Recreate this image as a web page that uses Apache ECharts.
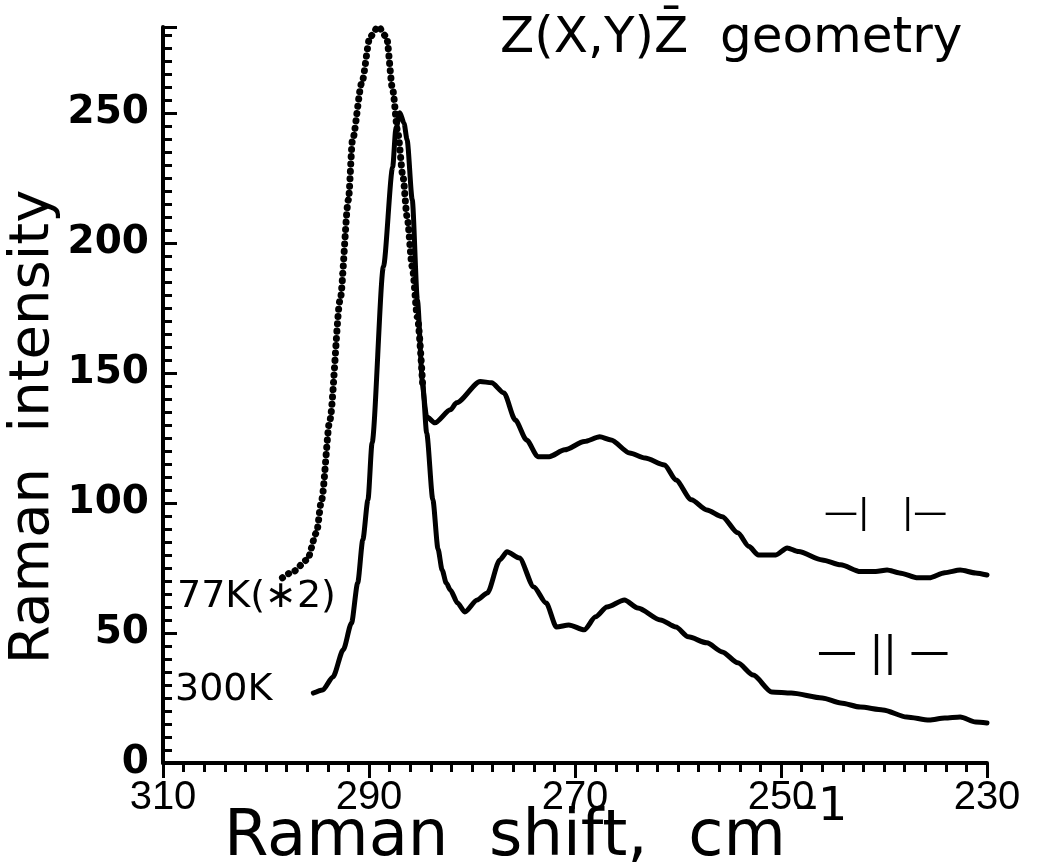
<!DOCTYPE html>
<html>
<head>
<meta charset="utf-8">
<script src="https://cdn.jsdelivr.net/npm/echarts@6/dist/echarts.min.js"></script>
<style>
html,body{margin:0;padding:0;background:#fff;}
#chart{width:1049px;height:867px;}
</style>
</head>
<body>
<div id="chart"></div>
<script>
// ---- data ----
const xTicks = [230, 250, 270, 290, 310];
const yTicks = [0, 50, 100, 150, 200, 250];

// 77K (x2) spectrum
const shift77 = [298.4,297.4,296.0,295.1,294.6,293.8,292.8,292.0,291.6,290.7,289.9,289.1,288.3,287.7,287.2,286.7,286.3,285.8,285.3,284.8,284.4,283.6,
  282.1,281.5,279.2,278.1,276.9,275.8,274.7,273.6,272.5,271.0,269.1,267.6,266.5,264.7,263.2,261.3,260.2,258.7,257.2,255.7,254.2,253.1,252.2,250.5,249.4,248.3,246.0,244.2,242.3,240.8,239.7,238.5,236.7,235.6,234.1,232.6,231.1,230.0];
const int77 = [71.2,73.5,78.1,88.5,101.2,131.9,178.1,216.5,239.6,261.5,279.2,283.1,279.2,258.8,242.3,225.4,210.0,190.8,171.5,146.2,133.1,130.8,
  135.8,138.5,146.7,146.2,142.3,131.9,124.2,117.8,117.8,120.4,123.6,125.4,124.2,119.2,117.3,114.6,108.8,101.2,97.3,94.7,88.5,83.2,80.0,80.0,82.7,81.3,78.1,76.2,73.6,73.6,74.2,73.1,71.2,71.2,73.2,74.2,73.1,72.3];
const split77 = 19; // index where the beaded (dotted) trace turns into a solid trace

// 300K spectrum
const shift300 = [295.4,294.5,293.5,292.5,291.7,291.1,290.6,290.1,289.7,288.6,287.7,287.4,287.0,286.6,286.3,285.8,285.3,284.8,284.4,283.8,283.3,282.9,282.5,282.1,281.4,280.7,279.5,278.5,277.3,276.6,275.4,274.0,272.8,271.8,270.6,269.1,268.0,266.9,265.2,263.9,261.7,260.2,259.0,257.2,255.7,254.2,252.7,250.9,249.0,246.0,244.2,242.3,240.1,237.8,235.6,234.1,232.6,231.1,230.0];
const int300 = [26.9,28.1,33.1,43.5,53.8,69.2,85.8,101.2,123.1,190.8,229.2,243.5,250.0,246.0,239.6,216.5,178.1,146.2,126.9,101.2,82.3,74.2,69.2,66.5,61.5,58.1,62.7,65.4,78.1,81.2,78.8,67.7,61.5,52.3,53.1,51.2,56.2,60.0,62.7,59.6,55.0,52.3,48.5,46.2,42.7,38.5,33.8,27.3,26.9,25.0,23.1,21.5,20.4,17.7,16.5,17.3,17.7,15.8,15.4];

const titleText = 'Z(X,Y)Z\u0304  geometry';
const xName = 'Raman  shift,  cm';
const xNameSup = '\u20131';
const yName = 'Raman  intensity';
const label77 = '77K(\u22172)';
const label300 = '300K';
const labelPerp = '\u2014|   |\u2014';
const labelPar = '\u2014 || \u2014';

// ---- build ----
const pairs = (xs, ys) => xs.map((x, i) => [x, ys[i]]);
const d77 = pairs(shift77, int77);
const d300 = pairs(shift300, int300);

const chart = echarts.init(document.getElementById('chart'), null, {renderer: 'canvas'});
const font = 'DejaVu Sans, Liberation Sans, sans-serif';
const black = '#000';

chart.setOption({
  animation: false,
  backgroundColor: '#fff',
  grid: {left: 163, right: 62, top: 27, bottom: 104, containLabel: false},
  xAxis: {
    type: 'value', min: 230, max: 310, interval: 20, inverse: true,
    axisLine: {show: true, lineStyle: {color: black, width: 4}},
    axisTick: {show: true, inside: false, length: 15, lineStyle: {color: black, width: 3}},
    minorTick: {show: true, splitNumber: 10, length: 9, lineStyle: {color: black, width: 3}},
    splitLine: {show: false},
    axisLabel: {
      color: black, fontSize: 40, fontFamily: 'Liberation Sans, sans-serif',
      margin: 15,
      formatter: v => xTicks.includes(v) ? String(v) : ''
    }
  },
  yAxis: [{
    type: 'value', min: 0, max: 283, interval: 50,
    axisLine: {show: true, lineStyle: {color: black, width: 4}},
    axisTick: {show: true, inside: true, length: 14, lineStyle: {color: black, width: 3}},
    splitLine: {show: false},
    axisLabel: {
      color: black, fontSize: 39, fontWeight: 'bold', fontFamily: font, margin: 14,
      formatter: v => yTicks.includes(v) ? String(v) : ''
    }
  }, {
    type: 'value', min: 0, max: 283, interval: 5, position: 'left',
    axisLine: {show: false},
    axisTick: {show: true, inside: true, length: 9, lineStyle: {color: black, width: 3}},
    axisLabel: {show: false},
    splitLine: {show: false}
  }],
  series: [
    {
      name: '77K dotted', type: 'line', yAxisIndex: 0, data: d77.slice(0, split77 + 1),
      showSymbol: false, smooth: 0.25, smoothMonotone: 'x',
      lineStyle: {color: black, width: 7, type: [0.1, 7.2], cap: 'round'}
    },
    {
      name: '77K', type: 'line', yAxisIndex: 0, data: d77.slice(split77),
      showSymbol: false, smooth: 0.25, smoothMonotone: 'x',
      lineStyle: {color: black, width: 5, cap: 'round', join: 'round'}
    },
    {
      name: '300K', type: 'line', yAxisIndex: 0, data: d300,
      showSymbol: false, smooth: 0.25, smoothMonotone: 'x',
      lineStyle: {color: black, width: 5, cap: 'round', join: 'round'}
    }
  ],
  graphic: [
    {type: 'text', left: 500, top: 14, style: {text: titleText, font: '50px DejaVu Sans', fill: black}},
    {type: 'text', x: 33, y: 427, rotation: Math.PI / 2,
      style: {text: yName, font: '56px DejaVu Sans', fill: black, align: 'center', verticalAlign: 'middle'}},
    {type: 'text', x: 224, y: 838,
      style: {text: xName, font: '64px DejaVu Sans', fill: black, align: 'left', verticalAlign: 'middle'}},
    {type: 'text', x: 795, y: 808,
      style: {text: xNameSup, font: '46px DejaVu Sans', fill: black, align: 'left', verticalAlign: 'middle'}},
    {type: 'text', x: 177, y: 597,
      style: {text: label77, font: '38px DejaVu Sans', fill: black, align: 'left', verticalAlign: 'middle'}},
    {type: 'text', x: 175, y: 690,
      style: {text: label300, font: '38px DejaVu Sans', fill: black, align: 'left', verticalAlign: 'middle'}},
    {type: 'text', x: 824, y: 514,
      style: {text: labelPerp, font: '34px DejaVu Sans', fill: black, align: 'left', verticalAlign: 'middle'}},
    {type: 'text', x: 817, y: 655,
      style: {text: labelPar, font: '40px DejaVu Sans', fill: black, align: 'left', verticalAlign: 'middle'}}
  ]
});
</script>
</body>
</html>
